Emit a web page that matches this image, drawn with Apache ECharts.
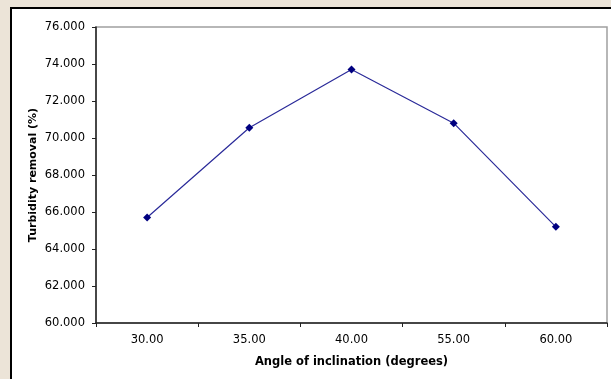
<!DOCTYPE html>
<html>
<head>
<meta charset="utf-8">
<script src="https://cdn.jsdelivr.net/npm/echarts@6/dist/echarts.min.js"></script>
<style>
html,body{margin:0;padding:0;background:#ece4d8;}
#chart{width:611px;height:379px;}
</style>
</head>
<body>
<div id="chart"></div>
<script>
const categories = ['30.00', '35.00', '40.00', '55.00', '60.00'];
const removal = [65.7, 70.55, 73.7, 70.8, 65.2];
const yMin = 60, yMax = 76, yStep = 2;

const FONT = 'DejaVu Sans';
const chart = echarts.init(document.getElementById('chart'), null, {renderer: 'canvas'});
chart.setOption({
  animation: false,
  backgroundColor: '#ece4d8',
  graphic: [{
    type: 'rect', z: -10, silent: true,
    shape: {x: 11, y: 8, width: 600, height: 371},
    style: {fill: '#ffffff'}
  }, {
    type: 'polyline', z: -9, silent: true,
    shape: {points: [[11, 379], [11, 8], [611, 8]]},
    style: {fill: null, stroke: '#000000', lineWidth: 2}
  }],
  grid: {
    left: 96, top: 27, width: 511, height: 296,
    show: true, borderColor: '#a0a0a0', borderWidth: 1.5, backgroundColor: '#ffffff'
  },
  xAxis: {
    type: 'category',
    data: categories,
    boundaryGap: true,
    axisLine: {lineStyle: {color: '#222', width: 1.5}},
    axisTick: {show: true, length: 4, alignWithLabel: false, lineStyle: {color: '#222'}},
    axisLabel: {margin: 11, color: '#000', fontSize: 11.5, fontFamily: FONT},
    name: 'Angle of inclination (degrees)',
    nameLocation: 'middle',
    nameMoveOverlap: false,
    nameGap: 33,
    nameTextStyle: {color: '#000', fontWeight: 'bold', fontSize: 11.5, fontFamily: FONT}
  },
  yAxis: {
    type: 'value',
    min: yMin, max: yMax, interval: yStep,
    splitLine: {show: false},
    axisLine: {show: true, lineStyle: {color: '#222', width: 1.5}},
    axisTick: {show: true, length: 4, lineStyle: {color: '#222'}},
    axisLabel: {margin: 11, color: '#000', fontSize: 11.5, fontFamily: FONT,
      formatter: v => v.toFixed(3)},
    name: 'Turbidity removal (%)',
    nameLocation: 'middle',
    nameMoveOverlap: false,
    nameGap: 57,
    nameTextStyle: {color: '#000', fontWeight: 'bold', fontSize: 11, fontFamily: FONT}
  },
  series: [{
    type: 'line',
    data: removal,
    symbol: 'diamond',
    symbolSize: 8,
    itemStyle: {color: '#000080'},
    lineStyle: {color: '#2a2a99', width: 1.2}
  }]
});
</script>
</body>
</html>
